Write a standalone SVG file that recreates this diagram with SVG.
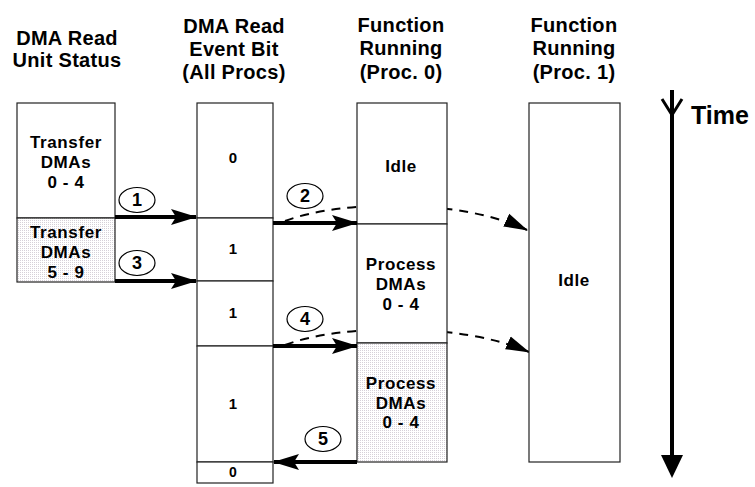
<svg xmlns="http://www.w3.org/2000/svg" width="755" height="487" viewBox="0 0 755 487">
  <defs>
    <pattern id="dots" width="2" height="2" patternUnits="userSpaceOnUse">
      <rect width="2" height="2" fill="#ffffff"/>
      <rect width="1" height="1" fill="#d6d0d8"/>
    </pattern>
    <marker id="head" markerUnits="userSpaceOnUse" markerWidth="26" markerHeight="18" refX="25" refY="9" orient="auto">
      <path d="M0,1 L26,9 L0,17 L5,9 z" fill="#000"/>
    </marker>
    <marker id="dhead" markerUnits="userSpaceOnUse" markerWidth="24" markerHeight="16" refX="23" refY="8" orient="auto">
      <path d="M0,1 L24,8 L0,15 z" fill="#000"/>
    </marker>
    <style>
      text { font-family: "Liberation Sans", Arial, sans-serif; fill: #000; text-anchor: middle; font-weight: bold; }
      .hd { font-size: 20px; letter-spacing: 0.3px; }
      .bx { font-size: 17px; letter-spacing: 0.6px; }
      .dg { font-size: 15px; }
      .cn { font-size: 18px; }
      .cell { fill: #fff; stroke: #222; stroke-width: 1.2; }
      .shade { fill: url(#dots); stroke: #222; stroke-width: 1.2; }
      .solid { fill: none; stroke: #000; stroke-width: 4; marker-end: url(#head); }
      .dash { fill: none; stroke: #000; stroke-width: 2; stroke-dasharray: 9 7; marker-end: url(#dhead); }
      .tag { fill: #fff; stroke: #000; stroke-width: 1.2; }
    </style>
  </defs>

  <rect width="755" height="487" fill="#fff"/>

  <!-- column headings -->
  <g id="headings">
    <text class="hd" x="67" y="45">DMA Read</text>
    <text class="hd" x="67" y="67">Unit Status</text>
    <text class="hd" x="234" y="33">DMA Read</text>
    <text class="hd" x="234" y="56">Event Bit</text>
    <text class="hd" x="234" y="79">(All Procs)</text>
    <text class="hd" x="401" y="32">Function</text>
    <text class="hd" x="401" y="55">Running</text>
    <text class="hd" x="401" y="79">(Proc. 0)</text>
    <text class="hd" x="574" y="32">Function</text>
    <text class="hd" x="574" y="55">Running</text>
    <text class="hd" x="574" y="79">(Proc. 1)</text>
  </g>

  <!-- dashed wake-up curves pass behind the Proc. 0 column -->
  <g id="signals">
    <path class="dash" d="M285,221 C340,200 460,198 527,230"/>
    <path class="dash" d="M285,345 C340,324 460,322 529,352"/>
  </g>

  <!-- DMA read unit status -->
  <g id="unit-dma0-4">
    <rect class="cell" x="17" y="103" width="98" height="115"/>
    <text class="bx" x="66" y="148">Transfer</text>
    <text class="bx" x="66" y="168">DMAs</text>
    <text class="bx" x="66" y="188">0 - 4</text>
  </g>
  <g id="unit-dma5-9">
    <rect class="shade" x="17" y="218" width="98" height="64"/>
    <text class="bx" x="66" y="238">Transfer</text>
    <text class="bx" x="66" y="258">DMAs</text>
    <text class="bx" x="66" y="278">5 - 9</text>
  </g>

  <!-- event bit column -->
  <g id="bit-a">
    <rect class="cell" x="197" y="103" width="76" height="115"/>
    <text class="dg" x="233" y="163">0</text>
  </g>
  <g id="bit-b">
    <rect class="cell" x="197" y="218" width="76" height="63"/>
    <text class="dg" x="233" y="254">1</text>
  </g>
  <g id="bit-c">
    <rect class="cell" x="197" y="281" width="76" height="65"/>
    <text class="dg" x="233" y="318">1</text>
  </g>
  <g id="bit-d">
    <rect class="cell" x="197" y="346" width="76" height="116"/>
    <text class="dg" x="233" y="409">1</text>
  </g>
  <g id="bit-e">
    <rect class="cell" x="197" y="462" width="76" height="21"/>
    <text class="dg" x="233" y="477" style="font-size:14px">0</text>
  </g>

  <!-- processor 0 -->
  <g id="p0-idle">
    <rect class="cell" x="357" y="103" width="90" height="121"/>
    <text class="bx" x="401" y="172">Idle</text>
  </g>
  <g id="p0-process-a">
    <rect class="cell" x="357" y="224" width="90" height="119"/>
    <text class="bx" x="401" y="270">Process</text>
    <text class="bx" x="401" y="290">DMAs</text>
    <text class="bx" x="401" y="310">0 - 4</text>
  </g>
  <g id="p0-process-b">
    <rect class="shade" x="357" y="343" width="90" height="119"/>
    <text class="bx" x="401" y="389">Process</text>
    <text class="bx" x="401" y="409">DMAs</text>
    <text class="bx" x="401" y="428">0 - 4</text>
  </g>

  <!-- processor 1 -->
  <g id="p1-idle">
    <rect class="cell" x="529" y="103" width="91" height="359"/>
    <text class="bx" x="574" y="286">Idle</text>
  </g>

  <!-- time axis -->
  <g id="time-axis">
    <line x1="672" y1="90" x2="672" y2="460" stroke="#000" stroke-width="4"/>
    <polyline points="662,99 672,115 682,99" fill="none" stroke="#000" stroke-width="3"/>
    <path d="M661,455 L683,455 L672,478 z" fill="#000"/>
    <text x="720" y="124" style="font-size:25px">Time</text>
  </g>

  <!-- event arrows -->
  <g id="connectors">
    <path class="solid" d="M115,217 L196,217"/>
    <path class="solid" d="M115,281 L196,281"/>
    <path class="solid" d="M273,223 L357,223"/>
    <path class="solid" d="M273,346 L357,346"/>
    <path class="solid" d="M357,462 L274,462"/>
  </g>

  <!-- step numbers -->
  <g id="steps">
    <ellipse class="tag" cx="137" cy="200" rx="18" ry="12.5"/>
    <text class="cn" x="137" y="206">1</text>
    <ellipse class="tag" cx="305" cy="196" rx="18" ry="12.5"/>
    <text class="cn" x="305" y="202">2</text>
    <ellipse class="tag" cx="137" cy="263" rx="18" ry="12.5"/>
    <text class="cn" x="137" y="269">3</text>
    <ellipse class="tag" cx="305" cy="319" rx="18" ry="12.5"/>
    <text class="cn" x="305" y="325">4</text>
    <ellipse class="tag" cx="323" cy="439" rx="18" ry="12.5"/>
    <text class="cn" x="323" y="445">5</text>
  </g>
</svg>
